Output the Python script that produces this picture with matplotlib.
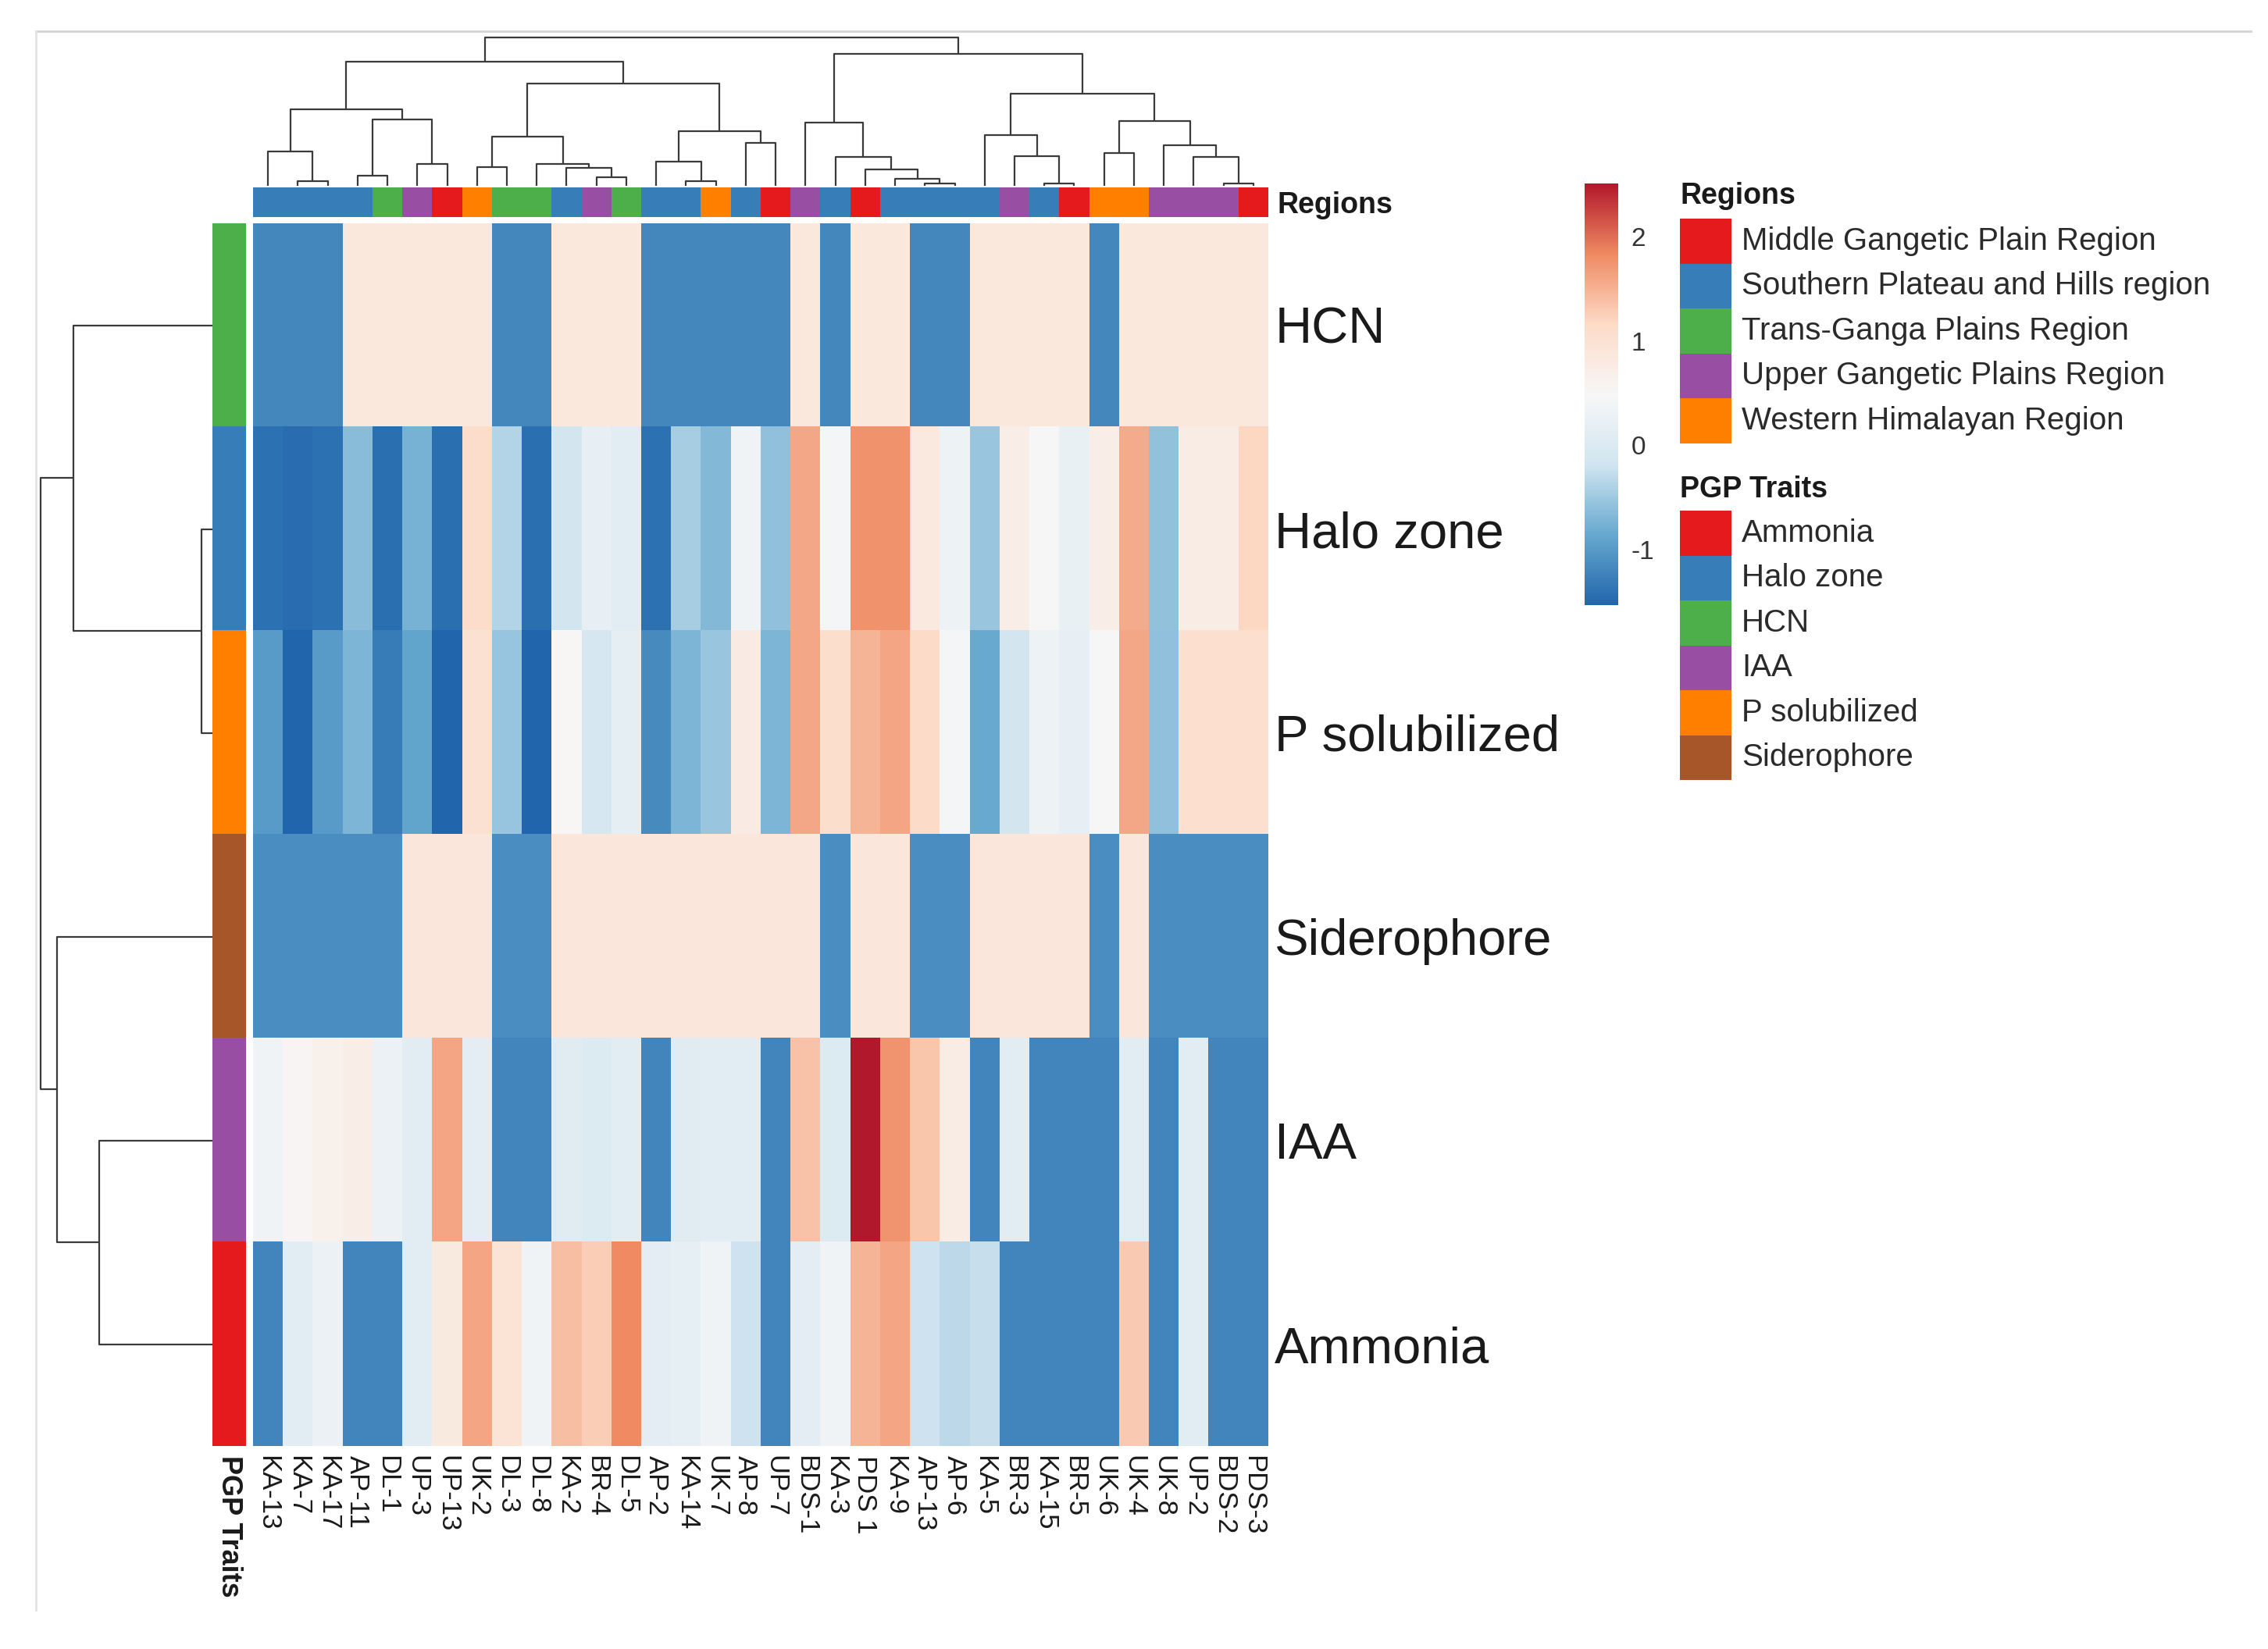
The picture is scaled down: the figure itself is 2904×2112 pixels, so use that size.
import numpy as np
import matplotlib
matplotlib.use("Agg")
import matplotlib.pyplot as plt
from matplotlib.colors import LinearSegmentedColormap, ListedColormap, Normalize
from matplotlib.patches import Rectangle
from matplotlib.lines import Line2D

plt.rcParams['font.family'] = ['Liberation Sans', 'DejaVu Sans']

### data ###

columns = ["KA-13", "KA-7", "KA-17", "AP-11", "DL-1", "UP-3", "UP-13", "UK-2",
           "DL-3", "DL-8", "KA-2", "BR-4", "DL-5", "AP-2", "KA-14", "UK-7",
           "AP-8", "UP-7", "BDS-1", "KA-3", "PDS 1", "KA-9", "AP-13", "AP-6",
           "KA-5", "BR-3", "KA-15", "BR-5", "UK-6", "UK-4", "UK-8", "UP-2",
           "BDS-2", "PDS-3"]

traits = ["HCN", "Halo zone", "P solubilized", "Siderophore", "IAA", "Ammonia"]

col_region = ["S", "S", "S", "S", "T", "U", "M", "W", "T", "T", "S", "U", "T",
              "S", "S", "W", "S", "M", "U", "S", "M", "S", "S", "S", "S", "U",
              "S", "M", "W", "W", "U", "U", "U", "M"]

hcn = [-1.19, -1.19, -1.19, 0.84, 0.84, 0.84, 0.84, 0.84, -1.19, -1.19, 0.84,
       0.84, 0.84, -1.19, -1.19, -1.19, -1.19, -1.19, 0.84, -1.19, 0.84, 0.84,
       -1.19, -1.19, 0.84, 0.84, 0.84, 0.84, -1.19, 0.84, 0.84, 0.84, 0.84, 0.84]

halo_zone = [-1.41, -1.45, -1.41, -0.64, -1.43, -0.75, -1.43, 1.11, -0.37, -1.43,
             -0.13, 0.21, 0.13, -1.41, -0.45, -0.67, 0.37, -0.59, 1.58, 0.44,
             1.76, 1.76, 0.82, 0.32, -0.53, 0.70, 0.48, 0.24, 0.70, 1.55, -0.58,
             0.74, 0.74, 1.19]

p_solubilized = [-0.99, -1.53, -0.99, -0.72, -1.30, -0.89, -1.53, 1.00, -0.54, -1.53,
                 0.52, -0.07, 0.18, -1.16, -0.72, -0.53, 0.77, -0.72, 1.58, 1.08,
                 1.48, 1.60, 1.15, 0.45, -0.85, -0.13, 0.33, 0.22, 0.50, 1.58,
                 -0.59, 1.05, 1.05, 1.05]

siderophore = [-1.13, -1.13, -1.13, -1.13, -1.13, 0.89, 0.89, 0.89, -1.13, -1.13,
               0.89, 0.89, 0.89, 0.89, 0.89, 0.89, 0.89, 0.89, 0.89, -1.13, 0.89,
               0.89, -1.13, -1.13, 0.89, 0.89, 0.89, 0.89, -1.13, 0.89, -1.13,
               -1.13, -1.13, -1.13]

iaa = [0.37, 0.55, 0.65, 0.70, 0.30, 0.13, 1.60, 0.15, -1.20, -1.20, 0.10, 0.03,
       0.12, -1.20, 0.08, 0.14, 0.12, -1.20, 1.36, 0.02, 2.51, 1.74, 1.34, 0.75,
       -1.20, 0.14, -1.20, -1.20, -1.20, 0.14, -1.20, 0.14, -1.20, -1.20]

ammonia = [-1.20, 0.14, 0.30, -1.20, -1.20, 0.12, 0.80, 1.60, 0.95, 0.37, 1.40,
           1.27, 1.82, 0.15, 0.20, 0.35, -0.20, -1.20, 0.15, 0.35, 1.48, 1.60,
           -0.20, -0.31, -0.25, -1.20, -1.20, -1.20, -1.20, 1.30, -1.20, 0.14,
           -1.20, -1.20]

values = np.array([hcn, halo_zone, p_solubilized, siderophore, iaa, ammonia])

region_names = ["Middle Gangetic Plain Region", "Southern Plateau and Hills region",
                "Trans-Ganga Plains Region", "Upper Gangetic Plains Region",
                "Western Himalayan Region"]
region_keys = ["M", "S", "T", "U", "W"]
region_colors = ["#E41A1C", "#377EB8", "#4DAF4A", "#984EA3", "#FF7F00"]

trait_legend = ["Ammonia", "Halo zone", "HCN", "IAA", "P solubilized", "Siderophore"]
trait_colors = ["#E41A1C", "#377EB8", "#4DAF4A", "#984EA3", "#FF7F00", "#A65628"]

cbar_ticks = [-1, 0, 1, 2]
cbar_labels = ["-1", "0", "1", "2"]

## dendrograms: (height, left, right), leaves are display positions
col_tree = (570,
            (477,
             (295, (133, 0, (18, 1, 2)), (255, (40, 3, 4), (85, 5, 6))),
             (393,
              (188, (72, 7, 8), (85, 9, (70, 10, (33, 11, 12)))),
              (210, (93, 13, (18, 14, 15)), (165, 16, 17)))),
            (507,
             (243, 18, (110, 19, (63, 20, (27, 21, (10, 22, 23))))),
             (355,
              (195, 24, (115, 25, (10, 26, 27))),
              (250, (127, 28, 29), (157, 30, (110, 31, (10, 32, 33)))))))

row_tree = (655, (530, 0, (42, 1, 2)), (593, 3, (433, 4, 5)))

vmin, vmax = -1.53, 2.51

### figure ###

W, H = 2904, 2112
fig = plt.figure(figsize=(W / 100, H / 100), dpi=100)

def box(x0, y0, x1, y1):
  # pixel box (top-left origin) -> axes rect
  return [x0 / W, 1 - y1 / H, (x1 - x0) / W, (y1 - y0) / H]

cmap = LinearSegmentedColormap.from_list(
  "rdbu7", ["#2166AC", "#67A9CF", "#D1E5F0", "#F7F7F7", "#FDDBC7", "#EF8A62", "#B2182B"])
norm = Normalize(vmin=vmin, vmax=vmax)

hx0, hx1, hy0, hy1 = 324, 1624, 286, 1852
ncol, nrow = len(columns), len(traits)

ax = fig.add_axes(box(hx0, hy0, hx1, hy1))
ax.imshow(values, cmap=cmap, norm=norm, aspect="auto", interpolation="nearest")
ax.set_xticks(range(ncol))
ax.set_xticklabels(columns, rotation=270, fontsize=25, color="#1a1a1a")
ax.set_yticks(range(nrow))
ax.set_yticklabels(traits, fontsize=47, color="#1a1a1a")
ax.yaxis.tick_right()
ax.tick_params(axis="y", length=0, pad=6)
ax.tick_params(axis="x", length=0, pad=9)
for s in ax.spines.values():
  s.set_visible(False)

## region annotation bar
axr = fig.add_axes(box(hx0, 240, hx1, 278))
reg_idx = [[region_keys.index(r) for r in col_region]]
axr.imshow(reg_idx, cmap=ListedColormap(region_colors), vmin=-0.5, vmax=4.5,
           aspect="auto", interpolation="nearest")
axr.set_xticks([])
axr.set_yticks([0])
axr.set_yticklabels(["Regions"], fontsize=27, fontweight="bold", color="#1a1a1a")
axr.yaxis.tick_right()
axr.tick_params(length=0, pad=8)
for s in axr.spines.values():
  s.set_visible(False)

## trait annotation bar
axt = fig.add_axes(box(272, hy0, 315, hy1))
tr_idx = [[trait_legend.index(t)] for t in traits]
axt.imshow(tr_idx, cmap=ListedColormap(trait_colors), vmin=-0.5, vmax=5.5,
           aspect="auto", interpolation="nearest")
axt.set_yticks([])
axt.set_xticks([0])
axt.set_xticklabels(["PGP Traits"], rotation=270, fontsize=26, fontweight="bold",
                    color="#1a1a1a")
axt.tick_params(length=0, pad=9)
for s in axt.spines.values():
  s.set_visible(False)

## dendrograms
def draw_tree(axd, node, horizontal=False):
  if not isinstance(node, tuple):
    return float(node), 0.0
  h, l, r = node
  xl, hl = draw_tree(axd, l, horizontal)
  xr, hr = draw_tree(axd, r, horizontal)
  xs = [xl, xl, xr, xr]
  hs = [hl, h, h, hr]
  if horizontal:
    axd.plot(hs, xs, color="#3a3a3a", lw=1.6, solid_capstyle="butt")
  else:
    axd.plot(xs, hs, color="#3a3a3a", lw=1.6, solid_capstyle="butt")
  return (xl + xr) / 2, h

axd = fig.add_axes(box(hx0, 46, hx1, 238))
draw_tree(axd, col_tree)
axd.set_xlim(-0.5, ncol - 0.5)
axd.set_ylim(0, 577)
axd.axis("off")

axdr = fig.add_axes(box(50, hy0, 272, hy1))
draw_tree(axdr, row_tree, horizontal=True)
axdr.set_ylim(nrow - 0.5, -0.5)
axdr.set_xlim(662, 0)
axdr.axis("off")

## colour legend
axc = fig.add_axes(box(2029, 235, 2072, 775))
cb = fig.colorbar(plt.cm.ScalarMappable(norm=norm, cmap=cmap), cax=axc)
cb.outline.set_visible(False)
cb.set_ticks(cbar_ticks)
cb.set_ticklabels(cbar_labels)
cb.ax.tick_params(length=0, labelsize=24, pad=12, labelcolor="#333333")

## discrete legends
def legend_block(title, names, colors, title_y, first_y, step=57.5):
  fig.text(2151 / W, 1 - title_y / H, title, fontsize=27, fontweight="bold",
           color="#1a1a1a", va="center", ha="left")
  for i, (n, c) in enumerate(zip(names, colors)):
    y0 = first_y + i * step
    fig.patches.append(Rectangle((2151 / W, 1 - (y0 + step) / H), 66 / W, step / H,
                                 transform=fig.transFigure, color=c, lw=0))
    fig.text(2230 / W, 1 - (y0 + step / 2) / H, n, fontsize=29, color="#2a2a2a",
             va="center", ha="left")

legend_block("Regions", region_names, region_colors, 251, 280)
legend_block("PGP Traits", trait_legend, trait_colors, 627, 654)

## light frame lines of the screenshot
fig.lines.append(Line2D([46 / W, 2882 / W], [1 - 40 / H, 1 - 40 / H],
                        transform=fig.transFigure, color="#d4d4d4", lw=2))
fig.lines.append(Line2D([46 / W, 46 / W], [1 - 40 / H, 1 - 2062 / H],
                        transform=fig.transFigure, color="#e2e2e2", lw=2))

fig.savefig("out.png", dpi=100, facecolor="white")
